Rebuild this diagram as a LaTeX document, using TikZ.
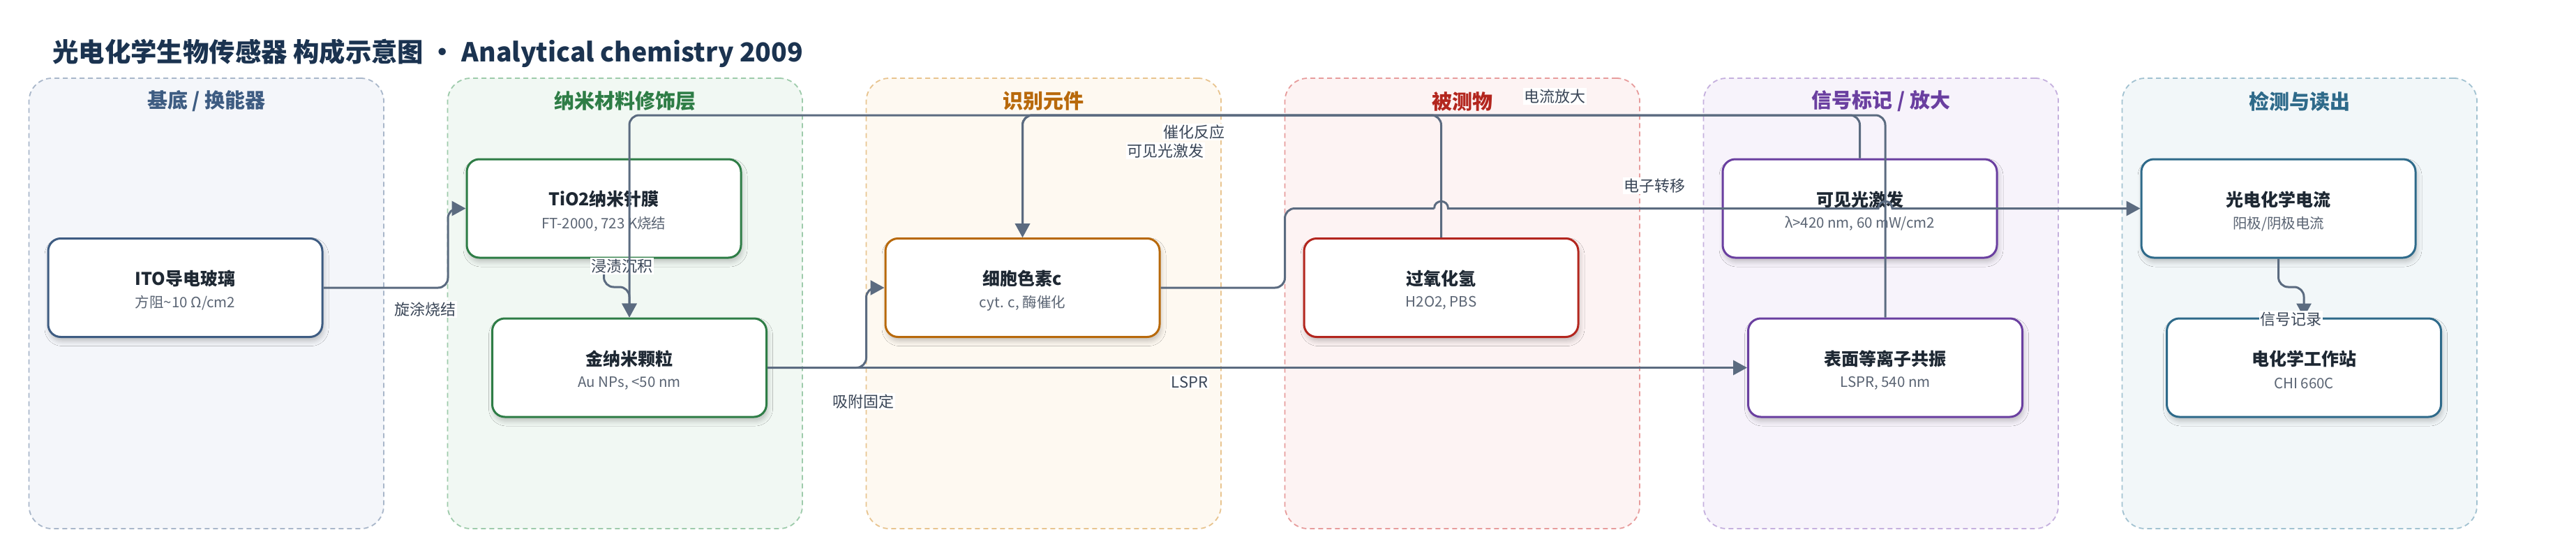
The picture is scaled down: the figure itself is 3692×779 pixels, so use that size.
\documentclass[tikz,border=0pt]{standalone}
\usepackage{fontspec}
\setmainfont{Noto Sans CJK SC}
\usetikzlibrary{arrows.meta,shadows.blur}
\definecolor{titlec}{HTML}{1B3350}
\definecolor{edgec}{HTML}{5B6B80}
\definecolor{lblc}{HTML}{3A4657}
\definecolor{ntc}{HTML}{1E2833}
\definecolor{nsc}{HTML}{5A6473}
\definecolor{cA}{HTML}{3E5C82}\definecolor{fA}{HTML}{F4F6FA}\definecolor{bA}{HTML}{A9B7CA}
\definecolor{cB}{HTML}{2E7D46}\definecolor{fB}{HTML}{F1F8F3}\definecolor{bB}{HTML}{9ECBAB}
\definecolor{cC}{HTML}{B8690B}\definecolor{fC}{HTML}{FEF9F1}\definecolor{bC}{HTML}{E8C48F}
\definecolor{cD}{HTML}{B3261E}\definecolor{fD}{HTML}{FDF3F3}\definecolor{bD}{HTML}{E79C9C}
\definecolor{cE}{HTML}{6A3FA0}\definecolor{fE}{HTML}{F7F3FB}\definecolor{bE}{HTML}{C5B0DE}
\definecolor{cF}{HTML}{2E6A8A}\definecolor{fF}{HTML}{F2F7F9}\definecolor{bF}{HTML}{A2C2D1}
\tikzset{
  grpbox/.style 2 args={draw=#1, fill=#2, dash pattern=on 7pt off 5pt, line width=1.8pt, rounded corners=33pt, minimum width=508.5pt, minimum height=645pt, inner sep=0pt},
  grphead/.style={text=#1, font=\bfseries\fontsize{29}{29}\selectfont, inner sep=0pt},
  nbox/.style={draw=#1, fill=white, line width=3pt, rounded corners=18pt, minimum width=393pt, minimum height=141pt, inner sep=0pt, blur shadow={shadow xshift=2pt, shadow yshift=-6pt, shadow blur radius=7pt, shadow opacity=22}},
  ntitle/.style={text=ntc, font=\bfseries\fontsize{25}{25}\selectfont, inner sep=0pt},
  nsub/.style={text=nsc, font=\fontsize{20.5}{20.5}\selectfont, inner sep=0pt},
  wire/.style={draw=edgec, line width=3pt, rounded corners=14pt},
  conn/.style={wire, -{Triangle[length=20pt,width=21pt]}},
  elbl/.style={fill=white, text=lblc, font=\fontsize{22}{22}\selectfont, inner sep=1.5pt},
}
\newcommand\mkbox[6]{%
  \node[nbox=#4] (#1) at (#2,#3) {};
  \node[ntitle, yshift=13pt] (#1-t) at (#1.center) {#5};
  \node[nsub, yshift=-22pt] (#1-s) at (#1.center) {#6};
}
\begin{document}
\begin{tikzpicture}[x=1pt,y=-1pt]
\useasboundingbox (0,0) rectangle (3692,779);
\fill[white] (0,0) rectangle (3692,779);
\node[anchor=west, text=titlec, font=\bfseries\fontsize{37.4}{37.4}\selectfont, inner sep=0pt] (title) at (75,76) {光电化学生物传感器 构成示意图 ・ Analytical chemistry 2009};
% groups
\node[grpbox={bA}{fA}] (g1) at (295.75,434.5) {};
\node[grpbox={bB}{fB}] (g2) at (895.75,434.5) {};
\node[grpbox={bC}{fC}] (g3) at (1495.75,434.5) {};
\node[grpbox={bD}{fD}] (g4) at (2095.75,434.5) {};
\node[grpbox={bE}{fE}] (g5) at (2695.75,434.5) {};
\node[grpbox={bF}{fF}] (g6) at (3295.75,434.5) {};
\node[grphead=cA] (g1h) at (295.75,145) {基底 / 换能器};
\node[grphead=cB] (g2h) at (895.75,145) {纳米材料修饰层};
\node[grphead=cC] (g3h) at (1495.75,145) {识别元件};
\node[grphead=cD] (g4h) at (2095.75,145) {被测物};
\node[grphead=cE] (g5h) at (2695.75,145) {信号标记 / 放大};
\node[grphead=cF] (g6h) at (3295.75,145) {检测与读出};
% nodes
\mkbox{ito}{265.5}{412}{cA}{ITO导电玻璃}{方阻\textasciitilde10 Ω/cm2}
\mkbox{tio}{865.5}{298.5}{cB}{TiO2纳米针膜}{FT-2000, 723 K烧结}
\mkbox{au}{902}{526.5}{cB}{金纳米颗粒}{Au NPs, <50 nm}
\mkbox{cyt}{1465.5}{412}{cC}{细胞色素c}{cyt. c, 酶催化}
\mkbox{hp}{2065.5}{412}{cD}{过氧化氢}{H2O2, PBS}
\mkbox{vis}{2665.5}{298.5}{cE}{可见光激发}{λ>420 nm, 60 mW/cm2}
\mkbox{spr}{2702}{526.5}{cE}{表面等离子共振}{LSPR, 540 nm}
\mkbox{pec}{3265.5}{298.5}{cF}{光电化学电流}{阳极/阴极电流}
\mkbox{ws}{3302}{526.5}{cF}{电化学工作站}{CHI 660C}
% edges
\draw[conn] (ito.east) -- (642,412) -- (642,298.5) -- (tio.west);
\node[elbl] (l1) at (609,443) {旋涂烧结};
\draw[conn] (tio.south) -- (865.5,411) -- (902,411) -- (au.north);
\node[elbl] (l2) at (891,381) {浸渍沉积};
\draw[conn] (au.east) -- (1241.5,526.5) -- (1241.5,412) -- (cyt.west);
\node[elbl] (l3) at (1237.5,575) {吸附固定};
\draw[conn] (au.east) -- (spr.west);
\node[elbl] (l4) at (1705,547) {LSPR};
\coordinate (h1a) at (2055.5,298.5);
\draw[wire] (cyt.east) -- (1841.5,412) -- (1841.5,298.5) -- (h1a);
\draw[conn, sharp corners] (h1a) .. controls (2055.5,285) and (2075.5,285) .. (2075.5,298.5) -- (2692,298.5) .. controls (2692,285) and (2712,285) .. (2712,298.5) -- (pec.west);
\node[elbl] (l5) at (2371,266) {电子转移};
\draw[conn] (hp.north) -- (2065.5,165) -- (1465.5,165) -- (cyt.north);
\node[elbl] (l6) at (1711,189) {催化反应};
\draw[conn] (vis.north) -- (2665.5,165) -- (1465.5,165) -- (cyt.north);
\node[elbl] (l7) at (1670.6,216) {可见光激发};
\draw[conn] (spr.north) -- (2702,165) -- (902,165) -- (au.north);
\node[elbl] (l8) at (2228,138) {电流放大};
\draw[conn] (pec.south) -- (3265.5,411) -- (3302,411) -- (ws.north);
\node[elbl] (l9) at (3283.5,457) {信号记录};
\end{tikzpicture}
\end{document}
